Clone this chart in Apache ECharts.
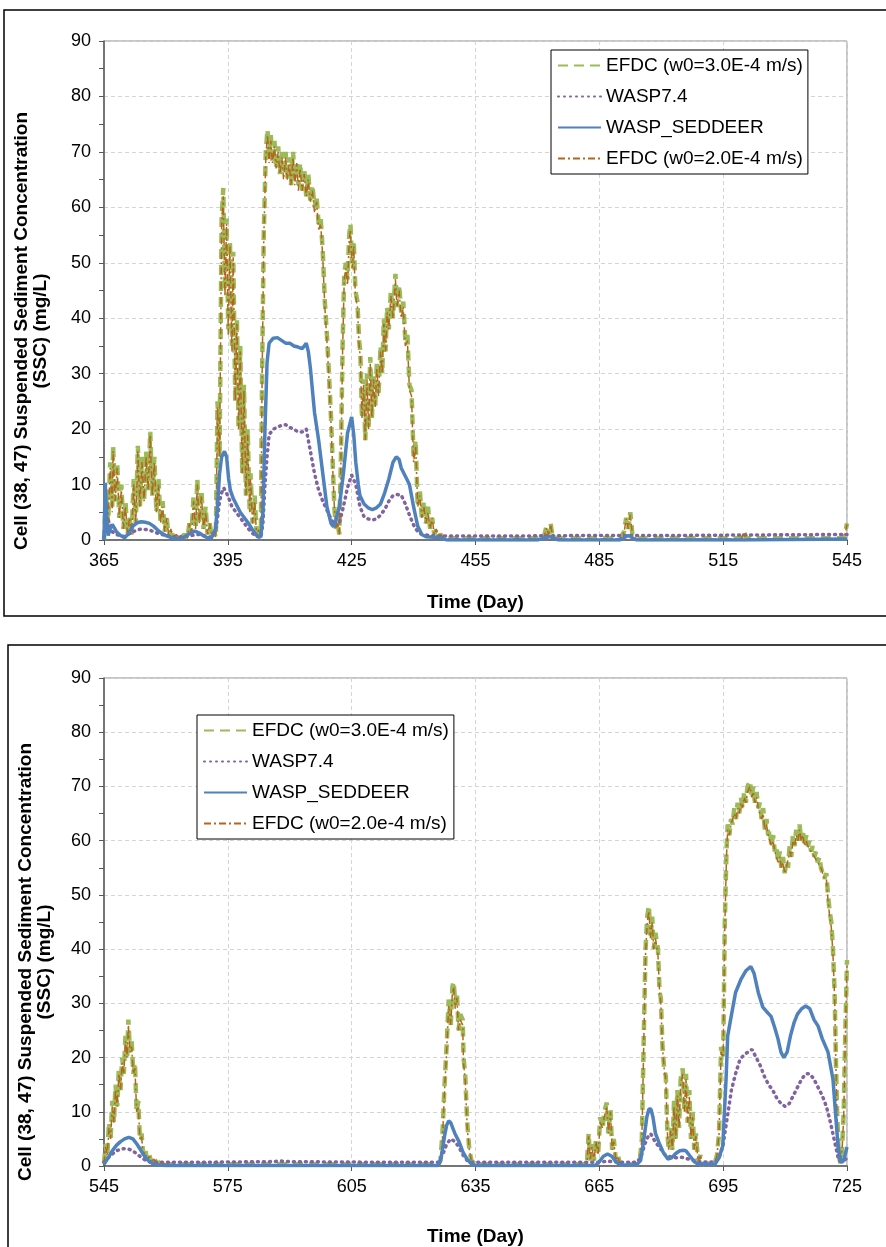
<!DOCTYPE html>
<html><head><meta charset="utf-8">
<script src="https://cdn.jsdelivr.net/npm/echarts@6/dist/echarts.min.js"></script>
<style>html,body{margin:0;padding:0;background:#fff}#c{width:886px;height:1247px}</style>
</head><body><div id="c"></div>
<script>
// ---------- DATA ----------
const yLabel = 'Cell (38, 47) Suspended Sediment Concentration\n(SSC) (mg/L)';
const xLabel = 'Time (Day)';
const namesTop = ['EFDC (w0=3.0E-4 m/s)', 'WASP7.4', 'WASP_SEDDEER', 'EFDC (w0=2.0E-4 m/s)'];
const namesBot = ['EFDC (w0=3.0E-4 m/s)', 'WASP7.4', 'WASP_SEDDEER', 'EFDC (w0=2.0e-4 m/s)'];

// Top panel (days 365-545)
const efdc3Top = [[365,0],[365.5,8],[366,3],[366.5,14],[367,6],[367.2,17],[367.7,7],[368.2,14],[368.7,4],[369.2,10],[369.7,2],[370.2,7],[370.7,1],[371.2,4],[371.7,1],[372.2,11],[372.7,3],[373.2,17],[373.7,6],[374.2,15],[374.7,7],[375.2,16],[375.7,9],[376.2,19.5],[376.7,8],[377.2,15],[377.7,5],[378.2,11],[378.7,3],[379.2,7],[379.7,1.5],[380.2,4],[380.7,0.5],[381.2,2],[381.7,0.3],[382.5,1],[383.5,0.3],[384.5,1],[385.2,0.3],[385.7,3],[386.2,1],[386.7,8],[387.2,2],[387.6,11],[388.1,3],[388.6,9],[389.1,2],[389.6,6],[390.1,1],[390.6,3],[391.1,0.5],[391.6,1.5],[392.1,0.5],[392.5,25],[393,15],[393.5,58],[393.9,63.5],[394.3,45],[394.7,58],[395.1,38],[395.5,54],[396,35],[396.3,52],[396.8,25],[397.2,40],[397.6,20],[398,35],[398.5,12],[398.9,28],[399.4,8],[399.8,20],[400.3,5],[400.5,12],[401,3],[401.5,8],[402,0.5],[402.5,2],[403,1],[403.3,30],[403.7,55],[404.2,70],[404.6,74],[405,69],[405.4,73],[405.8,68],[406.3,72],[406.7,67],[407.2,71],[407.6,66],[408.1,70],[408.5,66],[409,70],[409.4,65],[409.9,69],[410.3,64],[410.8,70],[411.2,65],[411.7,68],[412.1,64],[412.5,68],[413,63],[413.5,67],[414,62],[414.5,66],[415,61],[415.5,64],[416,60],[416.5,62],[417,57],[417.5,58],[418,52],[418.5,43],[419,37],[419.5,30],[420,22],[420.4,14],[420.8,6],[421.2,2],[421.6,3],[422,1],[422.4,15],[422.8,35],[423.2,48],[423.6,50],[424,47],[424.4,55],[424.7,57],[425.1,50],[425.5,54],[425.9,45],[426.4,43],[426.8,36],[427.1,34],[427.5,22],[427.9,29],[428.3,18],[428.7,30],[429.1,20],[429.5,33],[429.9,22],[430.3,30],[430.7,24],[431.1,32],[431.5,26],[432,35],[432.4,30],[432.8,40],[433.2,34],[433.6,42],[434,38],[434.5,45],[435,40],[435.6,48],[436,42],[436.5,46],[437,41],[437.5,43],[438,36],[438.5,37],[439,28],[439.5,27],[440,15],[440.5,18],[441,6],[441.5,9],[442,4],[442.5,7],[443,3],[443.5,6],[444,2],[444.5,4],[445,1],[445.5,2],[446,0.5],[446.5,1],[447.5,0.3],[460,0.3],[471.5,0.3],[472.2,2.5],[472.7,1],[473.2,3],[473.7,0.5],[475,0.3],[490,0.3],[491,1.5],[491.5,4],[492,2],[492.5,5],[493,1],[494,0.3],[510,0.3],[519.3,0.3],[520,1.5],[520.7,0.3],[535,0.3],[544,0.3],[544.6,1.5],[545,3]];
const efdc2Top = [[365,0],[365.5,7],[366,3],[366.5,13],[367,5],[367.2,16],[367.7,7],[368.2,13],[368.7,4],[369.2,9],[369.7,2],[370.2,6],[370.7,1],[371.2,4],[371.7,1],[372.2,10],[372.7,3],[373.2,16],[373.7,6],[374.2,14],[374.7,7],[375.2,15],[375.7,9],[376.2,19],[376.7,8],[377.2,14],[377.7,5],[378.2,10],[378.7,3],[379.2,6],[379.7,1.5],[380.2,4],[380.7,0.5],[381.2,2],[381.7,0.3],[382.5,1],[383.5,0.3],[384.5,1],[385.2,0.3],[385.7,3],[386.2,1],[386.7,7],[387.2,2],[387.6,10],[388.1,3],[388.6,8],[389.1,2],[389.6,5],[390.1,1],[390.6,3],[391.1,0.5],[391.6,1.5],[392.1,0.5],[392.5,24],[393,15],[393.5,57],[393.9,62],[394.3,44],[394.7,57],[395.1,37],[395.5,53],[396,34],[396.3,51],[396.8,25],[397.2,39],[397.6,20],[398,34],[398.5,12],[398.9,27],[399.4,8],[399.8,19],[400.3,5],[400.5,11],[401,3],[401.5,7],[402,0.5],[402.5,2],[403,1],[403.3,29],[403.7,54],[404.2,69],[404.6,73],[405,68],[405.4,72],[405.8,68],[406.3,71],[406.7,67],[407.2,70],[407.6,66],[408.1,69],[408.5,65],[409,69],[409.4,65],[409.9,68],[410.3,64],[410.8,69],[411.2,64],[411.7,68],[412.1,63],[412.5,67],[413,63],[413.5,66],[414,62],[414.5,65],[415,61],[415.5,63],[416,59],[416.5,61],[417,56],[417.5,57],[418,51],[418.5,42],[419,36],[419.5,29],[420,21],[420.4,13],[420.8,6],[421.2,2],[421.6,3],[422,1],[422.4,14],[422.8,34],[423.2,47],[423.6,49],[424,46],[424.4,54],[424.7,56],[425.1,49],[425.5,53],[425.9,44],[426.4,42],[426.8,35],[427.1,33],[427.5,22],[427.9,28],[428.3,18],[428.7,29],[429.1,20],[429.5,32],[429.9,22],[430.3,29],[430.7,24],[431.1,31],[431.5,26],[432,34],[432.4,30],[432.8,39],[433.2,34],[433.6,41],[434,38],[434.5,44],[435,40],[435.6,47],[436,42],[436.5,45],[437,40],[437.5,42],[438,35],[438.5,36],[439,27],[439.5,26],[440,14],[440.5,17],[441,6],[441.5,8],[442,4],[442.5,6],[443,3],[443.5,5],[444,2],[444.5,4],[445,1],[445.5,2],[446,0.5],[446.5,1],[447.5,0.2],[460,0.2],[471.5,0.2],[472.2,2.2],[472.7,1],[473.2,2.8],[473.7,0.5],[475,0.2],[490,0.2],[491,1.4],[491.5,3.8],[492,2],[492.5,4.6],[493,1],[494,0.2],[510,0.2],[519.3,0.2],[520,1.3],[520.7,0.2],[535,0.2],[544,0.2],[544.6,1.3],[545,2.8]];
const waspTop = [[365,0.5],[365.5,2],[366,3.6],[366.5,2.5],[367,1.5],[368,1],[369,0.8],[370,0.6],[372,1.5],[374,2],[376,1.8],[378,1.2],[380,0.8],[383,0.5],[386,0.8],[388,1],[390,0.6],[391,0.5],[392,1.5],[392.5,4],[393,7],[393.5,8.5],[394,9.4],[395,8],[396,6],[397,5],[398,4],[399,3],[400,2],[401,1.2],[402,0.6],[403,0.5],[403.5,3],[404,10],[404.5,15],[405,19],[406,20],[407,20.3],[408,20.7],[409,20.8],[410,20.3],[411,20],[412,19.5],[413,19.5],[414,20],[414.5,18],[415,16],[416,12],[417,9],[418,7],[419,5.4],[420,3.8],[421,2.6],[422,3],[423,6],[424,9.5],[425,11.7],[426,10],[427,6],[428,4.2],[429,3.8],[430,3.6],[431,3.8],[432,4.5],[433,5.5],[434,7],[435,8],[436,8.2],[437,8.1],[438,6.5],[439,4.5],[440,2.7],[441,1.5],[442,1],[444,0.8],[446,0.7],[460,0.7],[480,0.8],[500,0.8],[520,0.9],[545,1]];
const seddeerTop = [[365,0],[365.3,10.3],[365.7,3],[366,0.8],[366.5,2],[367,2.8],[367.5,2.2],[368,1.5],[369,0.8],[370,0.4],[371,1.2],[372,2.5],[373,3.1],[374,3.3],[375,3.2],[376,3],[377,2.5],[378,1.8],[379,1.2],[380,0.8],[381,0.5],[382,0.3],[383,0.2],[384,0.3],[385,0.8],[386,1.3],[387,1.6],[388,1.3],[389,0.8],[390,0.4],[391,0.3],[392,2],[392.5,6],[393,12],[393.5,15],[394.2,16],[394.7,15],[395.2,11],[395.6,9],[396.3,7.5],[397,6.5],[398,5],[399,4],[400,3],[401,1.8],[402,0.8],[403,0.5],[403.5,5],[404,20],[404.5,32],[405,35.5],[406,36.4],[407,36.5],[408,36],[409,35.5],[410,35.5],[411,35],[412,34.8],[413,34.5],[414,35.5],[414.5,34],[415,31],[415.5,27],[416,23],[417,18],[418,12],[419,6],[420,3],[420.6,2.4],[421,3],[422,6],[423,12],[424,19.3],[425,22.2],[425.5,19],[426,14],[426.6,10],[427,8],[428,6.5],[429,5.8],[430,5.5],[431,5.8],[432,6.5],[433,8.5],[434,11],[435,14],[435.8,15],[436.5,14.5],[437,13],[438,11.5],[439,10],[440,6],[441,2.5],[442,1],[443,0.6],[445,0.5],[447,0.3],[448,0],[470,0],[473,0.6],[475,0],[490,0],[492,0.8],[494,0],[520,0],[545,0.2]];

// Bottom panel (days 545-725)
const efdc3Bot = [[545,0.5],[545.4,4],[545.8,2],[546.2,8],[546.6,5],[547,12],[547.4,8],[547.8,15],[548.2,11],[548.6,18],[549,14],[549.4,20],[549.8,17],[550.2,24],[550.6,20],[550.9,27],[551.3,21],[551.7,23],[552.1,17],[552.5,19],[552.9,10],[553.3,12],[553.7,5],[554.1,6],[554.5,2],[555,3],[555.5,1],[556,2],[556.5,0.5],[557,1.5],[558,0.3],[559,1],[560,0.3],[562,0.3],[600,0.3],[626,0.3],[626.5,1],[627,6],[627.5,15],[628,22],[628.5,30.7],[629,26],[629.4,33],[629.7,34],[630.1,30],[630.5,32],[630.9,25],[631.3,28],[631.9,27],[632.1,20],[632.5,17],[633,8],[633.5,3],[634,1],[635,0.3],[662,0.3],[662.4,6],[662.8,1],[663.2,4],[663.7,1],[664.2,5],[664.7,2],[665.2,9],[665.8,7],[666.2,10],[666.8,11.7],[667.2,6],[667.7,10.5],[668.1,3],[668.5,5],[669,1],[669.5,2],[670,0.3],[674,0.3],[674.8,1],[675.3,5],[675.8,25],[676.2,40],[676.6,46],[677,48],[677.4,42],[677.8,46],[678.2,40],[678.6,43],[679.2,40],[679.6,32],[679.9,31],[680.3,22],[680.7,18],[681.1,16.6],[681.5,6],[681.8,3],[682.3,7],[682.7,3],[683.1,12],[683.5,5],[683.9,14],[684.3,7],[684.7,16],[685.2,18],[685.6,10],[686,17],[686.4,8],[686.8,14],[687.2,5],[687.6,10],[688,3],[688.4,6],[688.9,1],[689.5,2],[690,0.3],[691,0.5],[692,0.3],[693,0.5],[693.5,2],[694,6],[694.5,22],[695,20],[695.4,45],[695.8,58],[696.1,63],[696.5,61],[696.9,64],[697.3,63],[697.7,66],[698.1,64],[698.5,67],[698.9,65],[699.3,68],[699.7,66],[700.1,69],[700.5,67],[700.9,70],[701.5,71],[701.9,68],[702.3,70],[702.7,67],[703.1,69],[703.5,66],[703.9,67],[704.3,64],[704.7,66],[705.1,62],[705.5,64],[705.9,61],[706.3,62],[706.7,59],[707.1,61],[707.5,58],[707.9,59],[708.3,56],[708.7,58],[709.1,55],[709.5,57],[709.9,54],[710.3,56],[710.7,55],[711.1,59],[711.5,57],[711.9,61],[712.3,59],[712.7,62],[713.1,60],[713.5,63],[713.9,60],[714.3,62],[714.7,59],[715.1,61],[715.5,59],[715.9,60],[716.3,58],[716.7,59],[717.1,57],[717.5,58],[717.9,56],[718.3,57],[718.7,55],[719.1,55],[719.5,53],[720,54],[720.4,50],[720.8,47],[721.2,45],[721.6,40],[722,32],[722.3,20],[722.6,10],[723,2],[723.4,0.5],[723.8,3],[724.2,10],[724.6,25],[725,38]];
const efdc2Bot = [[545,0.5],[545.4,3.5],[545.8,2],[546.2,7],[546.6,5],[547,11],[547.4,8],[547.8,14],[548.2,11],[548.6,17],[549,14],[549.4,19],[549.8,17],[550.2,23],[550.6,20],[550.9,26],[551.3,21],[551.7,22],[552.1,17],[552.5,18],[552.9,10],[553.3,11],[553.7,5],[554.1,5.5],[554.5,2],[555,2.5],[555.5,1],[556,1.8],[556.5,0.5],[557,1.3],[558,0.2],[559,0.8],[560,0.2],[562,0.2],[600,0.2],[626,0.2],[626.5,1],[627,5],[627.5,14],[628,21],[628.5,29.5],[629,26],[629.4,32],[629.7,33],[630.1,29],[630.5,31],[630.9,25],[631.3,27],[631.9,26],[632.1,19],[632.5,16],[633,7],[633.5,3],[634,1],[635,0.2],[662,0.2],[662.4,5.5],[662.8,1],[663.2,3.5],[663.7,1],[664.2,4.5],[664.7,2],[665.2,8],[665.8,7],[666.2,9],[666.8,11],[667.2,6],[667.7,10],[668.1,3],[668.5,4.5],[669,1],[669.5,1.8],[670,0.2],[674,0.2],[674.8,1],[675.3,5],[675.8,24],[676.2,39],[676.6,45],[677,47],[677.4,42],[677.8,45],[678.2,40],[678.6,42],[679.2,39],[679.6,32],[679.9,30],[680.3,22],[680.7,18],[681.1,16],[681.5,6],[681.8,3],[682.3,6.5],[682.7,3],[683.1,11],[683.5,5],[683.9,13],[684.3,7],[684.7,15],[685.2,17],[685.6,10],[686,16],[686.4,8],[686.8,13],[687.2,5],[687.6,9],[688,3],[688.4,5.5],[688.9,1],[689.5,1.8],[690,0.2],[691,0.4],[692,0.2],[693,0.4],[693.5,2],[694,6],[694.5,21],[695,20],[695.4,44],[695.8,57],[696.1,62],[696.5,61],[696.9,63],[697.3,63],[697.7,65],[698.1,64],[698.5,66],[698.9,65],[699.3,67],[699.7,66],[700.1,68],[700.5,67],[700.9,69],[701.5,70],[701.9,68],[702.3,69],[702.7,67],[703.1,68],[703.5,66],[703.9,66],[704.3,64],[704.7,65],[705.1,62],[705.5,63],[705.9,61],[706.3,61],[706.7,59],[707.1,60],[707.5,58],[707.9,58],[708.3,56],[708.7,57],[709.1,55],[709.5,56],[709.9,54],[710.3,55],[710.7,55],[711.1,58],[711.5,57],[711.9,60],[712.3,59],[712.7,61],[713.1,60],[713.5,62],[713.9,60],[714.3,61],[714.7,59],[715.1,60],[715.5,59],[715.9,59],[716.3,58],[716.7,58],[717.1,57],[717.5,57],[717.9,56],[718.3,56],[718.7,55],[719.1,54],[719.5,53],[720,53],[720.4,49],[720.8,46],[721.2,44],[721.6,39],[722,31],[722.3,19],[722.6,9],[723,2],[723.4,0.5],[723.8,3],[724.2,9],[724.6,24],[725,37]];
const waspBot = [[545,0.7],[546,1.5],[547,2.2],[548,2.8],[549,3.1],[550,3.2],[551,3.1],[552,2.8],[553,2.2],[554,1.6],[555,1.1],[556,0.8],[558,0.7],[570,0.7],[585,0.8],[588,0.9],[590,0.8],[610,0.7],[626,0.7],[627,2],[628,4],[629,5],[630,4.5],[631,3.5],[632,2],[633,1],[634,0.7],[650,0.7],[665,0.7],[667,0.9],[670,0.7],[674,0.7],[675,1.5],[676,4],[677,5.8],[677.5,5.9],[678.5,4.5],[679.9,3.1],[681,2],[683,1.5],[685,1.6],[687,1.2],[689,0.8],[693,0.7],[694,1.5],[695,4],[696,9],[697,14],[698,17],[699,19.5],[700,20.5],[701,21],[702,21.5],[703,20],[704,18.5],[705,16.5],[706,15],[707,14],[708,12.5],[709,11.5],[710,11],[711,11.5],[712,13],[713,14.5],[714,16],[715,17],[716,17],[717,16],[718,14.5],[719,13],[720,11],[721,8],[722,4.5],[723,1],[724,0.8],[725,1.5]];
const seddeerBot = [[545,0.3],[546,1.5],[547,2.8],[548,3.8],[549,4.5],[550,5],[551,5.3],[552,5],[553,4],[554,2.8],[555,1.6],[556,0.8],[557,0.4],[558,0.2],[560,0.1],[600,0.1],[626,0.1],[626.5,1],[627,3],[627.5,5.5],[628,7.5],[628.5,8.3],[629,8],[629.5,7],[630,6],[631,4.5],[632,2.5],[633,1.2],[634,0.4],[635,0.1],[664,0.1],[665,0.8],[666,1.8],[667,2.2],[668,1.8],[669,0.8],[670,0.2],[674,0.2],[675,1],[675.8,5],[676.5,9],[677,10.5],[677.5,10.5],[678,9],[678.6,6],[679.4,4.4],[680.5,2.5],[681.6,1.3],[682.5,1.5],[683.5,2.3],[684.5,2.8],[685.5,2.9],[686,2.8],[687,1.8],[688,0.8],[689,0.3],[693,0.3],[694,1.5],[694.9,3.7],[695.7,16],[696.1,24],[696.8,27],[698,32],[699.3,34.4],[700.5,36],[701.7,36.8],[702.5,35.5],[703.5,32],[704.6,29.3],[705.5,28.5],[706.6,27.6],[707.5,25.5],[708.3,23.4],[709,21],[709.7,20],[710.5,21],[711.3,24],[712.2,26.5],[713,28],[714,29],[715,29.5],[716,29],[717,27],[718,25.8],[719,23.5],[720.4,21],[721.6,16],[722.2,10],[722.8,4],[723.4,0.8],[724,0.8],[724.5,2],[725,3.5]];

// ---------- CHART ----------
const FONT = '"Liberation Sans", Arial, sans-serif';
const C = { green: '#9BBB59', purple: '#8064A2', blue: '#4F81BD', brown: '#B5651D' };

function makeSeries(idx, names, e3, wasp, sed, e2) {
  return [
    { name: names[0], type: 'line', xAxisIndex: idx, yAxisIndex: idx, data: e3, symbol: 'none', z: 2,
      lineStyle: { color: C.green, width: 4.5, type: [10, 6] }, itemStyle: { color: C.green } },
    { name: names[1], type: 'line', xAxisIndex: idx, yAxisIndex: idx, data: wasp, symbol: 'none', z: 3,
      lineStyle: { color: C.purple, width: 3.5, type: [1, 5], cap: 'round' }, itemStyle: { color: C.purple } },
    { name: names[2], type: 'line', xAxisIndex: idx, yAxisIndex: idx, data: sed, symbol: 'none', z: 5,
      lineStyle: { color: C.blue, width: 3.5 }, itemStyle: { color: C.blue } },
    { name: names[3], type: 'line', xAxisIndex: idx, yAxisIndex: idx, data: e2, symbol: 'none', z: 4,
      lineStyle: { color: C.brown, width: 1.5, type: [7, 3, 2, 3] }, itemStyle: { color: C.brown } }
  ];
}

function xAxis(idx, min, max, gap) {
  return {
    type: 'value', gridIndex: idx, min: min, max: max, interval: 30,
    name: xLabel, nameLocation: 'middle', nameGap: gap,
    nameTextStyle: { fontFamily: FONT, fontSize: 19, fontWeight: 'bold', color: '#000' },
    axisLine: { show: true, onZero: false, lineStyle: { color: '#595959', width: 1.5 } },
    axisTick: { show: true, length: 5, lineStyle: { color: '#595959' } },
    axisLabel: { fontFamily: FONT, fontSize: 18, color: '#000', margin: 12 },
    splitLine: { show: true, lineStyle: { color: '#d4d4d4', type: [4, 3], width: 1 } }
  };
}
function yAxis(idx) {
  return {
    type: 'value', gridIndex: idx, min: 0, max: 90, interval: 10,
    axisLine: { show: true, lineStyle: { color: '#595959', width: 1.5 } },
    axisTick: { show: true, length: 5, lineStyle: { color: '#595959' } },
    minorTick: { show: true, splitNumber: 2, length: 5, lineStyle: { color: '#595959' } },
    axisLabel: { fontFamily: FONT, fontSize: 18, color: '#000', margin: 13 },
    splitLine: { show: true, lineStyle: { color: '#d4d4d4', type: [4, 3], width: 1 } }
  };
}
function legend(names, left, top) {
  return {
    data: names, orient: 'vertical', left: left, top: top,
    backgroundColor: '#fff', borderColor: '#000', borderWidth: 1, borderRadius: 0,
    padding: [6, 5, 6, 6], itemGap: 12, itemWidth: 43, itemHeight: 14,
    itemStyle: { opacity: 0 },
    textStyle: { fontFamily: FONT, fontSize: 19, color: '#000' },
    selectedMode: false
  };
}

const chart = echarts.init(document.getElementById('c'), null, { renderer: 'canvas' });
chart.setOption({
  animation: false,
  backgroundColor: '#fff',
  graphic: [
    { type: 'rect', shape: { x: 4, y: 10, width: 884, height: 606 }, style: { fill: 'none', stroke: '#000', lineWidth: 1.5 }, z: -10 },
    { type: 'rect', shape: { x: 8, y: 645, width: 882, height: 620 }, style: { fill: 'none', stroke: '#000', lineWidth: 1.5 }, z: -10 },
    { type: 'text', x: 31, y: 331, rotation: Math.PI / 2,
      style: { text: yLabel, fontFamily: FONT, fontSize: 19, fontWeight: 'bold', fill: '#000', align: 'center', verticalAlign: 'middle', lineHeight: 19 } },
    { type: 'text', x: 35, y: 962, rotation: Math.PI / 2,
      style: { text: yLabel, fontFamily: FONT, fontSize: 19, fontWeight: 'bold', fill: '#000', align: 'center', verticalAlign: 'middle', lineHeight: 19 } }
  ],
  grid: [
    { left: 104, top: 41, width: 743, height: 499, show: true, borderColor: '#8c8c8c', borderWidth: 1, backgroundColor: 'transparent' },
    { left: 104, top: 678, width: 743, height: 489, show: true, borderColor: '#8c8c8c', borderWidth: 1, backgroundColor: 'transparent' }
  ],
  xAxis: [xAxis(0, 365, 545, 53), xAxis(1, 545, 725, 61)],
  yAxis: [yAxis(0), yAxis(1)],
  legend: [legend(namesTop, 551, 50), legend(namesBot, 197, 715)],
  series: [].concat(
    makeSeries(0, namesTop, efdc3Top, waspTop, seddeerTop, efdc2Top),
    makeSeries(1, namesBot, efdc3Bot, waspBot, seddeerBot, efdc2Bot)
  )
});
</script>
</body></html>
